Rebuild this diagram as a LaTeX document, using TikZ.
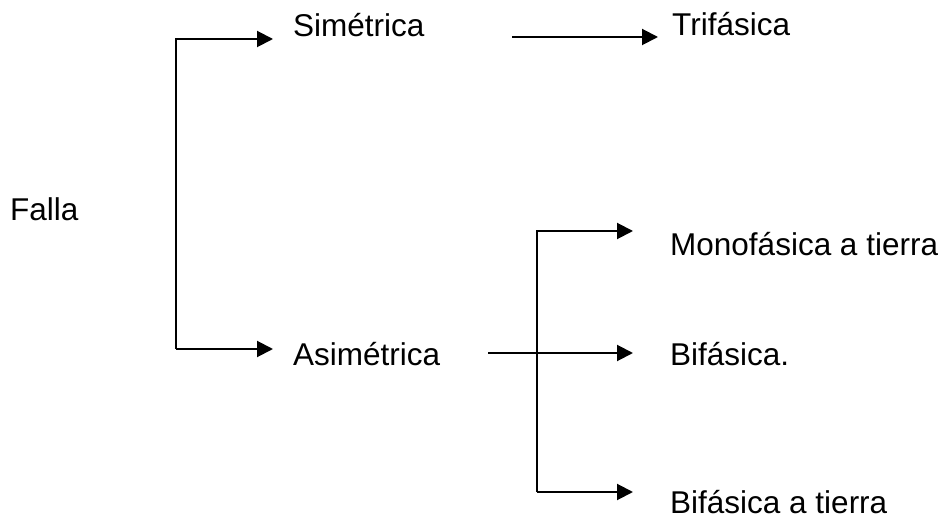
\documentclass[tikz,border=0pt]{standalone}
\usepackage{fontspec}
\setmainfont{Liberation Sans}
\usetikzlibrary{arrows.meta}
\begin{document}
\begin{tikzpicture}[x=1pt,y=-1pt,
  lbl/.style={anchor=base west,inner sep=0pt,font=\fontsize{31.5}{36}\selectfont},
  conn/.style={line width=2pt,black},
  arr/.style={conn,-{Triangle[length=16pt,width=16pt]}}]
\useasboundingbox[fill=white] (0,0) rectangle (945,518);
% labels
\node[lbl] (falla) at (10,221) {Falla};
\node[lbl] (sim) at (293,37) {Simétrica};
\node[lbl] (asim) at (293,366) {Asimétrica};
\node[lbl] (tri) at (672,36) {Trifásica};
\node[lbl] (mono) at (670,256) {Monofásica a tierra};
\node[lbl] (bif) at (670,366) {Bifásica.};
\node[lbl] (bift) at (670,513) {Bifásica a tierra};
% first bracket
\coordinate (b1t) at (176,39);
\coordinate (b1b) at (176,349);
\coordinate (e1t) at (273,39);
\coordinate (e1b) at (273,349);
\draw[arr] (b1b) -- (b1t) -- (e1t);
\draw[arr] (b1b) -- (e1b);
% simetrica -> trifasica
\coordinate (s3) at (512,37);
\coordinate (e3) at (658,37);
\draw[arr] (s3) -- (e3);
% second bracket
\coordinate (b2t) at (537,231);
\coordinate (b2b) at (537,492);
\coordinate (e2t) at (633,231);
\coordinate (e2b) at (633,492);
\coordinate (s2m) at (488,353);
\coordinate (e2m) at (633,353);
\draw[arr] (b2b) -- (b2t) -- (e2t);
\draw[arr] (b2b) -- (e2b);
\draw[arr] (s2m) -- (e2m);
\end{tikzpicture}
\end{document}
